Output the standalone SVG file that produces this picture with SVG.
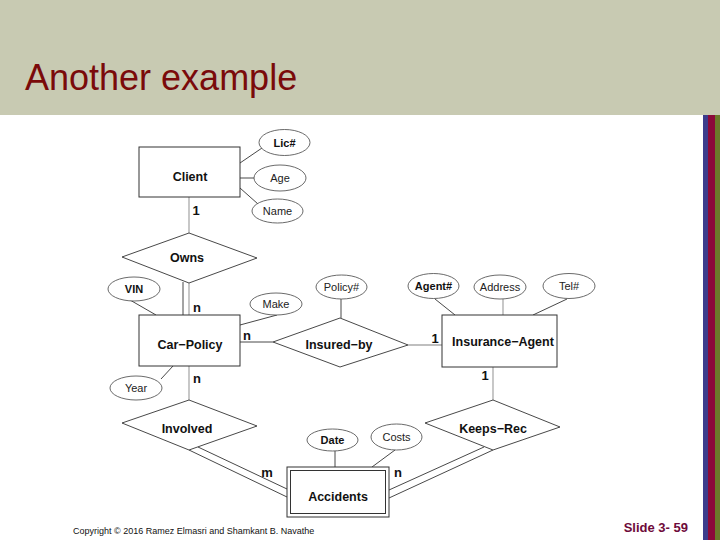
<svg xmlns="http://www.w3.org/2000/svg" width="720" height="540" viewBox="0 0 720 540">
<style>
.ent{fill:#fff;stroke:#333;stroke-width:1}
.rel{fill:#fff;stroke:#333;stroke-width:0.9}
.att{fill:#fff;stroke:#444;stroke-width:0.8}
.ln{stroke:#333;stroke-width:0.9;fill:none}
.lg{stroke:#aaa;stroke-width:1.3;fill:none}
.t{font-family:"Liberation Sans",Arial,sans-serif;font-weight:bold;font-size:12.5px;fill:#111;text-anchor:middle}
.a{font-family:"Liberation Sans",Arial,sans-serif;font-size:11px;fill:#222;text-anchor:middle}
.ak{font-family:"Liberation Sans",Arial,sans-serif;font-size:11px;font-weight:bold;fill:#111;text-anchor:middle}
.c{font-family:"Liberation Sans",Arial,sans-serif;font-weight:bold;font-size:13px;fill:#111;text-anchor:middle}
</style>
<rect x="0" y="0" width="720" height="540" fill="#fff"/>
<rect x="0" y="0" width="720" height="115" fill="#c8cab2"/>
<text x="25" y="90" font-family="'Liberation Sans',Arial,sans-serif" font-size="36" fill="#7a0a0a">Another example</text>
<rect x="703" y="115" width="5" height="425" fill="#3c3c8c"/>
<rect x="708" y="115" width="7" height="425" fill="#8b0a3a"/>
<rect x="715" y="115" width="5" height="425" fill="#6b7a2a"/>

<g id="connectors">
<line class="lg" x1="189" y1="197" x2="189" y2="233"/>
<line class="ln" x1="240" y1="163" x2="262" y2="148"/>
<line class="ln" x1="240" y1="178" x2="254" y2="178"/>
<line class="ln" x1="240" y1="188" x2="258" y2="204"/>
<line class="ln" x1="183" y1="282" x2="183" y2="315"/>
<line class="lg" x1="189" y1="283" x2="189" y2="315"/>
<line class="ln" x1="130" y1="300" x2="156" y2="315"/>
<line class="ln" x1="240" y1="325" x2="277" y2="315"/>
<line class="ln" x1="173" y1="366" x2="161" y2="379"/>
<line class="ln" x1="240" y1="342" x2="273" y2="342"/>
<line class="lg" x1="189" y1="366" x2="189" y2="400"/>
<line class="ln" x1="341" y1="299" x2="341" y2="318"/>
<line class="lg" x1="408" y1="345" x2="442" y2="345"/>
<line class="ln" x1="435" y1="299" x2="455" y2="315"/>
<line class="lg" x1="503" y1="299" x2="503" y2="315"/>
<line class="ln" x1="567" y1="299" x2="533" y2="315"/>
<line class="lg" x1="493" y1="367" x2="493" y2="400"/>
<line class="ln" x1="189" y1="450" x2="287" y2="497"/>
<line class="ln" x1="198" y1="447" x2="287" y2="489"/>
<line class="ln" x1="484" y1="447" x2="389" y2="490"/>
<line class="ln" x1="493" y1="450" x2="389" y2="498"/>
<line class="ln" x1="335" y1="451" x2="335" y2="467"/>
<line class="ln" x1="395" y1="450" x2="372" y2="467"/>
</g>

<g id="client"><rect class="ent" x="139" y="147" width="101" height="50"/><text class="t" x="190" y="181">Client</text></g>
<g id="lic"><ellipse class="att" cx="284.5" cy="142.5" rx="25.5" ry="13"/><text class="ak" x="284.5" y="146.5">Lic#</text></g>
<g id="age"><ellipse class="att" cx="280" cy="178" rx="26" ry="13"/><text class="a" x="280" y="182">Age</text></g>
<g id="name"><ellipse class="att" cx="277.5" cy="211" rx="25.5" ry="12"/><text class="a" x="277.5" y="215">Name</text></g>

<g id="owns"><polygon class="rel" points="189,233 257,258 189,283 122,257"/><text class="t" x="187" y="262">Owns</text></g>

<g id="vin"><ellipse class="att" cx="134" cy="289" rx="26" ry="12"/><text class="ak" x="134" y="293">VIN</text></g>
<g id="make"><ellipse class="att" cx="276" cy="304" rx="26" ry="11"/><text class="a" x="276" y="308">Make</text></g>
<g id="year"><ellipse class="att" cx="136" cy="388" rx="26" ry="12"/><text class="a" x="136" y="392">Year</text></g>

<g id="carpolicy"><rect class="ent" x="139" y="315" width="101" height="51"/><text class="t" x="190" y="349">Car−Policy</text></g>

<g id="policyno"><ellipse class="att" cx="341.5" cy="287" rx="25.5" ry="12"/><text class="a" x="341.5" y="291">Policy#</text></g>
<g id="insuredby"><polygon class="rel" points="340,318 408,345 340,367 273,342"/><text class="t" x="339" y="349">Insured−by</text></g>

<g id="agentno"><ellipse class="att" cx="433.5" cy="286" rx="25.5" ry="12.5"/><text class="ak" x="433.5" y="290">Agent#</text></g>
<g id="address"><ellipse class="att" cx="500" cy="287" rx="26" ry="12"/><text class="a" x="500" y="291">Address</text></g>
<g id="tel"><ellipse class="att" cx="569" cy="286" rx="26" ry="12.5"/><text class="a" x="569" y="290">Tel#</text></g>
<g id="agent"><rect class="ent" x="442" y="315" width="115" height="52"/><text class="t" x="503" y="346">Insurance−Agent</text></g>

<g id="involved"><polygon class="rel" points="189,400 257,426 189,450 122,423"/><text class="t" x="187" y="433">Involved</text></g>
<g id="keepsrec"><polygon class="rel" points="493,400 560,427 493,450 425,423"/><text class="t" x="493" y="433">Keeps−Rec</text></g>

<g id="date"><ellipse class="att" cx="332.5" cy="440" rx="25.5" ry="11"/><text class="ak" x="332.5" y="444">Date</text></g>
<g id="costs"><ellipse class="att" cx="396.5" cy="437" rx="25.5" ry="13"/><text class="a" x="396.5" y="441">Costs</text></g>
<g id="accidents"><rect class="ent" x="287" y="467" width="102" height="50"/><rect class="ent" x="290.5" y="470.5" width="95" height="43"/><text class="t" x="338" y="501">Accidents</text></g>

<g id="cards">
<text class="c" x="196" y="215">1</text>
<text class="c" x="197" y="312">n</text>
<text class="c" x="247" y="340">n</text>
<text class="c" x="197" y="383">n</text>
<text class="c" x="435" y="343">1</text>
<text class="c" x="485" y="380">1</text>
<text class="c" x="267" y="477">m</text>
<text class="c" x="398" y="477">n</text>
</g>

<text x="73" y="534" font-family="'Liberation Sans',Arial,sans-serif" font-size="9" fill="#111">Copyright © 2016 Ramez Elmasri and Shamkant B. Navathe</text>
<text x="688" y="532" text-anchor="end" font-family="'Liberation Sans',Arial,sans-serif" font-weight="bold" font-size="13" fill="#6e0a3a">Slide 3- 59</text>
</svg>
